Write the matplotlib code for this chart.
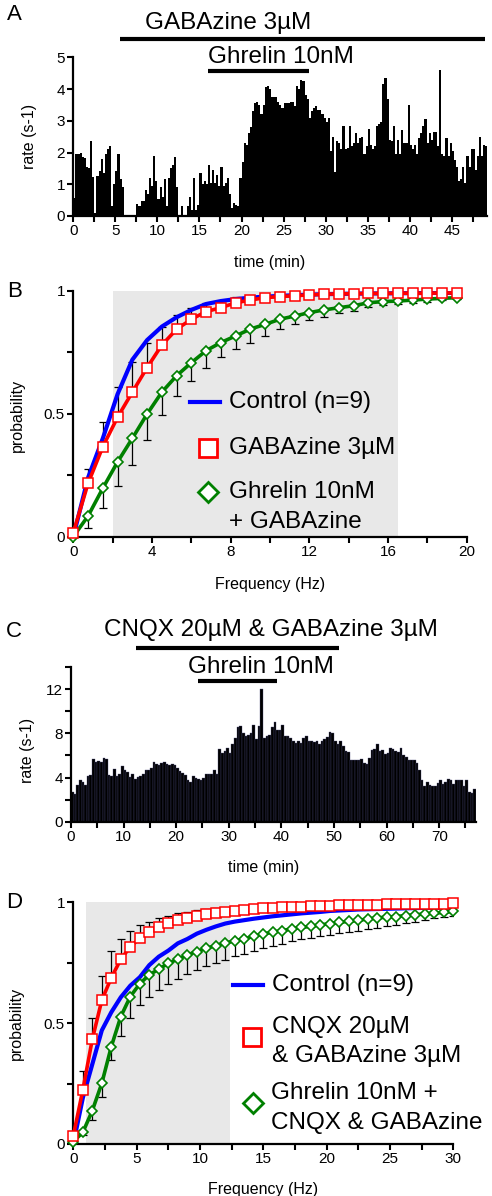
import matplotlib.pyplot as plt
import numpy as np
from matplotlib.ticker import MultipleLocator, FuncFormatter

plt.rcParams['font.family'] = ['Liberation Sans', 'DejaVu Sans']
plt.rcParams['font.size'] = 11

# ---- Panel A: firing rate, 0.25 min bins ----
bin_a = 0.25
rate_a = [
    0.58, 1.94, 1.94, 2.0, 1.86, 1.84, 1.55, 1.5, 2.37, 1.22, 0.1, 1.27,
    1.42, 1.8, 1.37, 1.94, 2.12, 2.2, 0.3, 1.0, 1.42, 1.94, 1.16, 0.9,
    0, 0, 0, 0, 0, 0, 0.37, 0.3, 0.48, 0.48, 0.82, 0.7,
    1.2, 0.95, 1.9, 1.1, 0.55, 0.9, 0.6, 1.15, 0.3, 1.2, 1.5, 1.6,
    1.85, 0.9, 0, 0.3, 0, 0, 0.3, 0.6, 0.2, 1.2, 0.2, 0.35,
    1.35, 1.0, 1.1, 1.0, 1.6, 1.05, 1.45, 1.05, 1.3, 0.95, 1.55, 0.95,
    1.05, 1.2, 0.7, 0.25, 0.4, 0.35, 0.3, 1.2,
    1.7, 2.3, 2.25, 2.6, 2.8, 3.3, 3.55, 3.6, 3.5, 3.2, 3.5, 4.05,
    4.1, 4.0, 3.75, 3.75, 3.75, 3.6, 3.5, 3.4,
    3.55, 3.55, 3.55, 3.6, 3.6, 3.45, 4.1, 4.0, 4.3, 4.25, 3.8, 3.7,
    3.1, 3.3, 3.4, 3.45, 3.35, 3.35, 3.2, 3.1, 2.95, 3.1, 2.05, 2.5,
    1.4, 2.35, 2.3, 2.1, 2.85, 2.1, 2.15, 2.85, 2.2, 2.3, 2.6, 2.3,
    2.45, 2.5, 1.95, 2.2, 2.75, 2.25, 2.1, 2.2, 2.85, 2.9, 2.95, 4.15,
    4.35, 3.7, 2.4, 2.35, 2.85, 1.95, 2.4, 1.95, 2.7, 2.3, 2.3, 3.5,
    2.25, 2.1, 2.25, 1.95, 2.45, 2.6, 2.85, 3.05, 2.3, 2.6, 2.4, 2.65,
    2.65, 2.2, 4.6, 1.95, 1.9, 2.45, 1.9, 2.3, 2.05, 1.75, 1.55, 1.1,
    1.15, 1.55, 1.05, 1.9, 1.55, 2.1, 2.1, 1.45, 1.9, 2.5, 1.9, 2.25,
    2.2,
]
gaba_on_a = [5.5, 49.0]      # GABAzine application (min)
ghrelin_on_a = [16.0, 28.0]  # ghrelin application (min)

# ---- Panel C: firing rate, 0.5 min bins ----
bin_c = 0.5
rate_c = [
    2.7, 2.55, 3.3, 3.8, 3.6, 3.3, 4.1, 4.2, 5.65, 5.4,
    5.5, 5.4, 5.8, 5.7, 4.2, 4.1, 4.8, 4.15, 4.35, 5.05,
    4.65, 4.5, 4.05, 4.3, 3.9, 4.05, 4.15, 4.35, 4.7, 4.7,
    4.9, 5.45, 5.25, 5.1, 5.3, 5.4, 5.25, 5.1, 5.2, 5.1,
    4.9, 4.6, 4.45, 4.2, 3.8, 3.6, 4.1, 4.0, 3.85, 3.8,
    3.95, 4.3, 4.35, 4.35, 4.65, 4.35, 6.6, 6.2, 6.45, 6.7,
    6.2, 7.05, 7.6, 8.6, 8.7, 8.0, 7.75, 7.9, 8.0, 8.8,
    7.5, 8.7, 12.0, 7.6, 7.8, 7.9, 8.6, 9.05, 8.35, 8.3,
    8.8, 7.8, 7.75, 7.6, 7.35, 7.15, 7.35, 7.15, 7.6, 7.75,
    7.3, 7.3, 7.2, 7.35, 7.05, 7.3, 7.5, 7.65, 8.1, 8.0,
    7.3, 7.0, 7.35, 6.9, 6.45, 6.3, 5.6, 5.55, 5.6, 5.55,
    5.7, 5.3, 5.25, 5.8, 6.5, 6.6, 7.05, 6.45, 6.5, 6.15,
    6.2, 6.7, 6.6, 6.4, 6.3, 6.7, 6.0, 5.85, 5.6, 5.6,
    5.55, 5.3, 4.65, 3.8, 3.2, 3.6, 3.3, 3.2, 3.25, 3.5,
    3.75, 3.4, 3.6, 3.9, 3.75, 3.4, 3.8, 3.8, 3.8, 3.2,
    3.75, 2.7, 2.6, 3.0,
]
cnqx_on_c = [12.4, 51.0]
ghrelin_on_c = [24.1, 39.2]

# ---- Panel B: cumulative probability, 0.75 Hz steps ----
step_b = 0.75
ctrl_b = [0.0, 0.24, 0.40, 0.58, 0.72, 0.80, 0.855, 0.893, 0.923, 0.947, 0.959,
          0.967, 0.973, 0.977, 0.98, 0.983, 0.985, 0.987, 0.988, 0.989, 0.99,
          0.99, 0.991, 0.991, 0.992, 0.992, 0.992]
gaba_b = [0.016, 0.217, 0.366, 0.486, 0.588, 0.688, 0.780, 0.844, 0.885, 0.916,
          0.932, 0.952, 0.963, 0.973, 0.977, 0.981, 0.984, 0.987, 0.988, 0.989,
          0.99, 0.99, 0.991, 0.991, 0.991, 0.992, 0.992]
gaba_b_err = [0, 0.06, 0.10, 0.125, 0.124, 0.10, 0.075, 0.058, 0.044, 0.035, 0.028,
              0.022, 0.018, 0.015, 0.012, 0.01, 0.008, 0.006, 0.005, 0.004, 0.003,
              0.003, 0.002, 0.002, 0.002, 0.001, 0.001]
ghr_b = [0.0, 0.084, 0.197, 0.304, 0.400, 0.499, 0.588, 0.655, 0.708, 0.757,
         0.790, 0.817, 0.845, 0.864, 0.885, 0.898, 0.912, 0.923, 0.932, 0.940,
         0.952, 0.957, 0.959, 0.963, 0.967, 0.970, 0.973]
ghr_b_err = [0, 0.047, 0.081, 0.098, 0.108, 0.105, 0.093, 0.081, 0.073, 0.069,
             0.057, 0.053, 0.055, 0.046, 0.041, 0.034, 0.030, 0.028, 0.023, 0.02,
             0.018, 0.016, 0.014, 0.012, 0.01, 0.008, 0.006]
shade_b = [2.0, 16.5]

# ---- Panel D: cumulative probability, 0.75 Hz steps ----
step_d = 0.75
ctrl_d = [0.0, 0.19, 0.33, 0.47, 0.545, 0.607, 0.655, 0.69, 0.74, 0.775, 0.80,
          0.83, 0.848, 0.87, 0.886, 0.90, 0.912, 0.92, 0.926, 0.932, 0.937,
          0.942, 0.946, 0.95, 0.954, 0.957, 0.96, 0.964, 0.966, 0.968, 0.97,
          0.971, 0.972, 0.973, 0.974, 0.975, 0.976, 0.977, 0.977, 0.978, 0.978]
cnqx_d = [0.034, 0.223, 0.433, 0.595, 0.688, 0.764, 0.816, 0.851, 0.879, 0.899,
          0.913, 0.927, 0.934, 0.944, 0.951, 0.955, 0.959, 0.962, 0.969, 0.971,
          0.975, 0.978, 0.979, 0.981, 0.982, 0.984, 0.985, 0.986, 0.987, 0.988,
          0.989, 0.99, 0.99, 0.991, 0.992, 0.992, 0.993, 0.993, 0.994, 0.994, 0.995]
cnqx_d_err = [0, 0.08, 0.09, 0.10, 0.11, 0.083, 0.065, 0.054, 0.04, 0.035, 0.031,
              0.028, 0.026, 0.024, 0.022, 0.02, 0.018, 0.016, 0.014, 0.012, 0.011,
              0.01, 0.009, 0.008, 0.007, 0.006, 0.006, 0.005, 0.005, 0.004, 0.004,
              0.003, 0.003, 0.003, 0.002, 0.002, 0.002, 0.002, 0.001, 0.001, 0.001]
ghr_d = [0.01, 0.048, 0.138, 0.251, 0.403, 0.527, 0.610, 0.663, 0.700, 0.723,
         0.748, 0.764, 0.782, 0.796, 0.810, 0.820, 0.831, 0.841, 0.849, 0.859,
         0.869, 0.876, 0.883, 0.890, 0.896, 0.900, 0.907, 0.911, 0.917, 0.921,
         0.925, 0.931, 0.935, 0.939, 0.941, 0.945, 0.948, 0.952, 0.955, 0.958, 0.962]
ghr_d_err = [0, 0.01, 0.04, 0.055, 0.055, 0.08, 0.09, 0.09, 0.09, 0.088, 0.085,
             0.083, 0.08, 0.076, 0.072, 0.07, 0.068, 0.065, 0.062, 0.06, 0.058,
             0.056, 0.054, 0.052, 0.05, 0.049, 0.048, 0.047, 0.046, 0.045, 0.044,
             0.042, 0.04, 0.037, 0.034, 0.031, 0.028, 0.025, 0.022, 0.02, 0.018]
shade_d = [1.0, 12.4]

BLUE, RED, GREEN = '#0000ff', '#ff0000', '#008000'
BIG = 17.5  # drug labels and legend text


def style_axes(ax, xmaj, xmin, ymaj, ymin):
    for side in ['top', 'right']:
        ax.spines[side].set_visible(False)
    for side in ['left', 'bottom']:
        ax.spines[side].set_linewidth(1.6)
    ax.xaxis.set_major_locator(MultipleLocator(xmaj))
    ax.xaxis.set_minor_locator(MultipleLocator(xmin))
    ax.yaxis.set_major_locator(MultipleLocator(ymaj))
    ax.yaxis.set_minor_locator(MultipleLocator(ymin))
    ax.yaxis.set_major_formatter(FuncFormatter(lambda v, p: f'{v:g}'))
    ax.tick_params(which='both', direction='out', length=4, width=1.5,
                   labelsize=11, pad=2)


def drug_bar(ax, span, y, label, tx, ty):
    ax.plot(span, [y, y], transform=ax.get_xaxis_transform(), color='black',
            lw=3, solid_capstyle='butt', clip_on=False)
    ax.text(tx, ty, label, transform=ax.transAxes, ha='center', va='center',
            fontsize=BIG)


def draw_cdf(ax, step, ctrl, red, red_err, green, green_err):
    f_ctrl = np.arange(len(ctrl)) * step
    f_red = np.arange(len(red)) * step
    f_green = np.arange(len(green)) * step
    ax.errorbar(f_red, red, yerr=[np.zeros(len(red)), red_err], fmt='none',
                ecolor='black', elinewidth=0.9, capsize=3, capthick=0.9, zorder=2)
    ax.errorbar(f_green, green, yerr=[green_err, np.zeros(len(green))], fmt='none',
                ecolor='black', elinewidth=0.9, capsize=3, capthick=0.9, zorder=2)
    ax.plot(f_ctrl, ctrl, color=BLUE, lw=3, zorder=3)
    ax.plot(f_green, green, color=GREEN, lw=2.6, marker='D', ms=5.5, mfc='white',
            mec=GREEN, mew=1.2, zorder=4, clip_on=False)
    ax.plot(f_red, red, color=RED, lw=2.6, marker='s', ms=7, mfc='white',
            mec=RED, mew=1.1, zorder=5, clip_on=False)


def legend_entry(ax, x, y, **kw):
    ax.plot([x], [y], transform=ax.transAxes, clip_on=False, mfc='white', **kw)


fig = plt.figure(figsize=(4.92, 11.96), dpi=100)
ax_a = fig.add_axes([0.149, 0.8194, 0.841, 0.1327])
ax_b = fig.add_axes([0.149, 0.5513, 0.7996, 0.2054])
ax_c = fig.add_axes([0.1443, 0.3130, 0.8232, 0.1291])
ax_d = fig.add_axes([0.149, 0.0435, 0.7724, 0.2021])

# A
t_a = np.arange(len(rate_a)) * bin_a
ax_a.bar(t_a, rate_a, width=bin_a, align='edge', color='black',
         edgecolor='black', linewidth=0)
ax_a.set_xlim(0, 49.2)
ax_a.set_ylim(0, 5)
style_axes(ax_a, 5, 2.5, 1, 1)
ax_a.set_xlabel('time (min)', fontsize=11.5)
ax_a.set_ylabel('rate (s-1)', fontsize=11.5)
ax_a.xaxis.set_label_coords(0.474, -0.246)
ax_a.yaxis.set_label_coords(-0.088, 0.5)
drug_bar(ax_a, gaba_on_a, 1.115, 'GABAzine 3µM', 0.3745, 1.216)
drug_bar(ax_a, ghrelin_on_a, 0.916, 'Ghrelin 10nM', 0.501, 1.0)

# B
ax_b.axvspan(*shade_b, color='#e8e8e8', lw=0, zorder=0)
draw_cdf(ax_b, step_b, ctrl_b, gaba_b, gaba_b_err, ghr_b, ghr_b_err)
ax_b.set_xlim(0, 20)
ax_b.set_ylim(0, 1)
style_axes(ax_b, 4, 2, 0.5, 0.25)
ax_b.set_xlabel('Frequency (Hz)', fontsize=11.5)
ax_b.set_ylabel('probability', fontsize=11.5)
ax_b.xaxis.set_label_coords(0.5, -0.163)
ax_b.yaxis.set_label_coords(-0.123, 0.493)
ax_b.plot([0.2973, 0.3736], [0.549, 0.549], transform=ax_b.transAxes,
          color=BLUE, lw=3, clip_on=False)
ax_b.text(0.3966, 0.549, 'Control (n=9)', transform=ax_b.transAxes,
          va='center', fontsize=BIG)
legend_entry(ax_b, 0.343, 0.360, marker='s', ms=13, mec=RED, mew=2)
ax_b.text(0.3966, 0.360, 'GABAzine 3µM', transform=ax_b.transAxes,
          va='center', fontsize=BIG)
legend_entry(ax_b, 0.343, 0.183, marker='D', ms=10, mec=GREEN, mew=2)
ax_b.text(0.3966, 0.183, 'Ghrelin 10nM', transform=ax_b.transAxes,
          va='center', fontsize=BIG)
ax_b.text(0.3966, 0.061, '+ GABAzine', transform=ax_b.transAxes,
          va='center', fontsize=BIG)

# C
t_c = np.arange(len(rate_c)) * bin_c
ax_c.bar(t_c, rate_c, width=bin_c, align='edge', color='black',
         edgecolor='#4a4a78', linewidth=0.25)
ax_c.set_xlim(0, 77)
ax_c.set_ylim(0, 14)
style_axes(ax_c, 10, 5, 4, 2)
ax_c.set_xlabel('time (min)', fontsize=11.5)
ax_c.set_ylabel('rate (s-1)', fontsize=11.5)
ax_c.xaxis.set_label_coords(0.475, -0.248)
ax_c.yaxis.set_label_coords(-0.089, 0.464)
drug_bar(ax_c, cnqx_on_c, 1.123, 'CNQX 20µM & GABAzine 3µM', 0.4926, 1.242)
drug_bar(ax_c, ghrelin_on_c, 0.913, 'Ghrelin 10nM', 0.470, 1.0)

# D
ax_d.axvspan(*shade_d, color='#e8e8e8', lw=0, zorder=0)
draw_cdf(ax_d, step_d, ctrl_d, cnqx_d, cnqx_d_err, ghr_d, ghr_d_err)
ax_d.set_xlim(0, 30)
ax_d.set_ylim(0, 1)
style_axes(ax_d, 5, 2.5, 0.5, 0.25)
ax_d.set_xlabel('Frequency (Hz)', fontsize=11.5)
ax_d.set_ylabel('probability', fontsize=11.5)
ax_d.xaxis.set_label_coords(0.5, -0.156)
ax_d.yaxis.set_label_coords(-0.131, 0.497)
ax_d.plot([0.42, 0.499], [0.658, 0.658], transform=ax_d.transAxes,
          color=BLUE, lw=3, clip_on=False)
ax_d.text(0.522, 0.658, 'Control (n=9)', transform=ax_d.transAxes,
          va='center', fontsize=BIG)
legend_entry(ax_d, 0.469, 0.444, marker='s', ms=13, mec=RED, mew=2)
ax_d.text(0.522, 0.485, 'CNQX 20µM', transform=ax_d.transAxes,
          va='center', fontsize=BIG)
ax_d.text(0.522, 0.362, '& GABAzine 3µM', transform=ax_d.transAxes,
          va='center', fontsize=BIG)
legend_entry(ax_d, 0.472, 0.168, marker='D', ms=10, mec=GREEN, mew=2)
ax_d.text(0.52, 0.212, 'Ghrelin 10nM +', transform=ax_d.transAxes,
          va='center', fontsize=BIG)
ax_d.text(0.52, 0.086, 'CNQX & GABAzine', transform=ax_d.transAxes,
          va='center', fontsize=BIG)

# panel letters
for letter, y in [('A', 0.9875), ('B', 0.7563), ('C', 0.472), ('D', 0.2454)]:
    fig.text(0.029, y, letter, fontsize=16, ha='center', va='center')

fig.savefig('out.png', dpi=100)
